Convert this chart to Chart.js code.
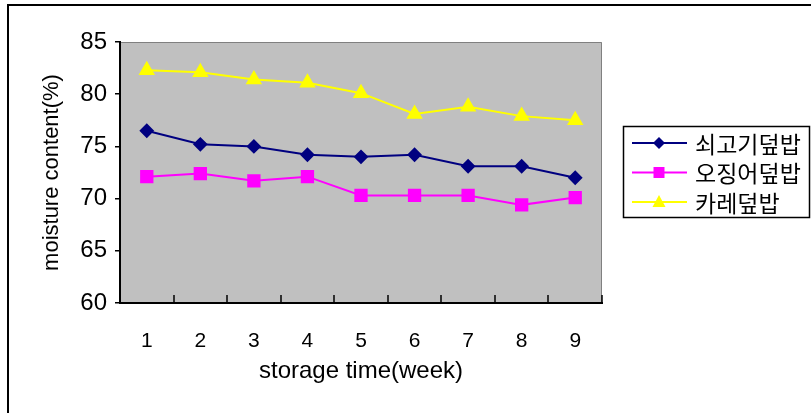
<!DOCTYPE html>
<html>
<head>
<meta charset="utf-8">
<script src="https://cdn.jsdelivr.net/npm/chart.js@4/dist/chart.umd.min.js"></script>
<style>
	html, body { margin: 0; padding: 0; background: #fff; }
	#wrap { width: 811px; height: 413px; }
</style>
</head>
<body>
<div id="wrap"><canvas id="chart"></canvas></div>
<script>
const weeks = ["1", "2", "3", "4", "5", "6", "7", "8", "9"];
const yTicks = [60, 65, 70, 75, 80, 85];

const beef = [76.5, 75.2, 75.0, 74.2, 74.0, 74.2, 73.1, 73.1, 72.0];
const squid = [72.1, 72.4, 71.7, 72.1, 70.3, 70.3, 70.3, 69.4, 70.1];
const curry = [82.3, 82.1, 81.4, 81.1, 80.1, 78.1, 78.8, 77.9, 77.5];

const seriesNames = ["쇠고기덮밥", "오징어덮밥", "카레덮밥"];

// plot background, frame, inner x ticks and the boxed legend
const decor = {
	id: "decor",
	beforeDraw(chart) {
		const { ctx, chartArea: a } = chart;
		ctx.save();
		ctx.fillStyle = "#c0c0c0";
		ctx.fillRect(a.left, a.top, a.right - a.left, a.bottom - a.top);
		ctx.strokeStyle = "#808080";
		ctx.lineWidth = 1;
		ctx.beginPath();
		ctx.moveTo(a.left, a.top + 0.5);
		ctx.lineTo(a.right - 0.5, a.top + 0.5);
		ctx.lineTo(a.right - 0.5, a.bottom);
		ctx.stroke();
		// outer frame
		ctx.strokeStyle = "#000";
		ctx.lineWidth = 2;
		ctx.beginPath();
		ctx.moveTo(8, 413);
		ctx.lineTo(8, 5);
		ctx.lineTo(811, 5);
		ctx.stroke();
		ctx.restore();
	},
	afterDraw(chart) {
		const { ctx, chartArea: a } = chart;
		const x = chart.scales.x;
		const step = (a.right - a.left) / weeks.length;
		ctx.save();
		ctx.strokeStyle = "#000";
		ctx.lineWidth = 1.5;
		ctx.beginPath();
		for (let k = 1; k <= weeks.length; k++) {
			const px = Math.round(x.left + k * step);
			ctx.moveTo(px, a.bottom);
			ctx.lineTo(px, a.bottom - 8);
		}
		ctx.stroke();

		// legend
		ctx.lineWidth = 1.5;
		ctx.strokeRect(623.5, 126.5, 186, 91);
		chart.data.datasets.forEach((ds, i) => {
			const y = 143 + i * 29.5;
			ctx.strokeStyle = ds.borderColor;
			ctx.lineWidth = 2;
			ctx.beginPath();
			ctx.moveTo(632, y);
			ctx.lineTo(687, y);
			ctx.stroke();
			ctx.fillStyle = ds.backgroundColor;
			ctx.beginPath();
			const mx = 659;
			if (ds.pointStyle === "rectRot") {
				ctx.moveTo(mx - 6, y); ctx.lineTo(mx, y - 6); ctx.lineTo(mx + 6, y); ctx.lineTo(mx, y + 6);
			} else if (ds.pointStyle === "rect") {
				ctx.rect(mx - 5.5, y - 5.5, 11, 11);
			} else {
				ctx.moveTo(mx, y - 7); ctx.lineTo(mx + 6.5, y + 5); ctx.lineTo(mx - 6.5, y + 5);
			}
			ctx.closePath();
			ctx.fill();
			ctx.fillStyle = "#000";
			ctx.font = '23px "Noto Sans CJK KR"';
			ctx.textBaseline = "middle";
			ctx.textAlign = "left";
			ctx.fillText(ds.label, 695, y + 1);
		});
		ctx.restore();
	},
};

const data = {
	labels: weeks,
	datasets: [
		{
			label: seriesNames[0],
			data: beef,
			borderColor: "#000080",
			backgroundColor: "#000080",
			pointStyle: "rectRot",
			pointRadius: 6,
			borderWidth: 2,
		},
		{
			label: seriesNames[1],
			data: squid,
			borderColor: "#ff00ff",
			backgroundColor: "#ff00ff",
			pointStyle: "rect",
			pointRadius: 8,
			borderWidth: 2,
		},
		{
			label: seriesNames[2],
			data: curry,
			borderColor: "#ffff00",
			backgroundColor: "#ffff00",
			pointStyle: "triangle",
			pointRadius: 7.5,
			borderWidth: 2,
		},
	],
};

const options = {
	responsive: true,
	maintainAspectRatio: false,
	animation: false,
	layout: { padding: { top: 42, right: 209, left: 0, bottom: 0 } },
	plugins: {
		legend: { display: false },
		tooltip: { enabled: false },
	},
	elements: {
		line: { tension: 0 },
		point: { borderWidth: 0 },
	},
	scales: {
		x: {
			type: "category",
			offset: true,
			grid: { display: false, drawTicks: false },
			border: { display: true, color: "#000", width: 2 },
			ticks: {
				color: "#000",
				font: { family: "Liberation Sans", size: 21 },
				padding: 26,
				maxRotation: 0,
			},
			title: {
				display: true,
				text: "storage time(week)",
				color: "#000",
				font: { family: "Liberation Sans", size: 24 },
				padding: { top: 0, bottom: 27 },
			},
			afterFit(scale) { scale.height = 110; },
		},
		y: {
			min: 60,
			max: 85,
			afterBuildTicks(scale) { scale.ticks = yTicks.map(v => ({ value: v })); },
			grid: { display: true, drawOnChartArea: false, drawTicks: true, tickLength: 5, color: "#000", lineWidth: 1.5 },
			border: { display: true, color: "#000", width: 2 },
			ticks: {
				color: "#000",
				font: { family: "Liberation Sans", size: 24 },
				padding: 8,
			},
			title: {
				display: true,
				text: "moisture content(%)",
				color: "#000",
				font: { family: "Liberation Sans", size: 22 },
				padding: { top: 39, bottom: 0 },
			},
			afterFit(scale) { scale.width = 120; },
		},
	},
};

new Chart(document.querySelector("#chart"), {
	type: "line",
	data,
	options,
	plugins: [decor],
});
</script>
</body>
</html>
